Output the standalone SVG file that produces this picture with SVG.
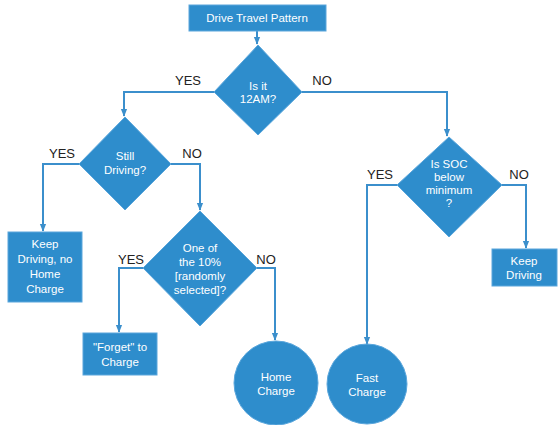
<svg xmlns="http://www.w3.org/2000/svg" width="559" height="425" viewBox="0 0 559 425">
<defs>
<marker id="arr" viewBox="0 0 10 10" refX="9" refY="5" markerWidth="4" markerHeight="4" orient="auto"><path d="M0,1 L10,5 L0,9 z" fill="#3b8fcc"/></marker>
<style>
.shape{fill:#2e8dcc;stroke:#5aa6dc;stroke-width:1}
.t{font-family:"Liberation Sans",Arial,sans-serif;font-size:11.5px;fill:#fff;text-anchor:middle}
.l{font-family:"Liberation Sans",Arial,sans-serif;font-size:13px;fill:#222;text-anchor:middle}
.c{fill:none;stroke:#3b8fcc;stroke-width:2;marker-end:url(#arr)}
</style>
</defs>
<rect width="559" height="425" fill="#fff"/>
<g id="connectors">
<path class="c" d="M257,31 V44"/>
<path class="c" d="M214,92 H124 V116"/>
<path class="c" d="M302,92 H447 V136"/>
<path class="c" d="M79,164 H43 V231"/>
<path class="c" d="M171,164 H200 V210"/>
<path class="c" d="M143,268 H119 V332"/>
<path class="c" d="M257,268 H275 V340"/>
<path class="c" d="M397,185 H367 V344"/>
<path class="c" d="M502,185 H526 V248"/>
</g>
<g id="labels">
<text class="l" x="188" y="85">YES</text>
<text class="l" x="322" y="85">NO</text>
<text class="l" x="62" y="158">YES</text>
<text class="l" x="192" y="158">NO</text>
<text class="l" x="131" y="264">YES</text>
<text class="l" x="266" y="264">NO</text>
<text class="l" x="380" y="179">YES</text>
<text class="l" x="519" y="179">NO</text>
</g>
<g id="start">
<rect class="shape" x="189" y="5" width="137" height="26"/>
<text class="t" x="257" y="22">Drive Travel Pattern</text>
</g>
<g id="is12am">
<polygon class="shape" points="258,45 302,92 258,135 214,92"/>
<text class="t" x="258" y="90">Is it</text>
<text class="t" x="258" y="103">12AM?</text>
</g>
<g id="stillDriving">
<polygon class="shape" points="125,117 171,164 125,210 79,164"/>
<text class="t" x="125" y="160">Still</text>
<text class="t" x="125" y="174">Driving?</text>
</g>
<g id="keepDrivingNoHome">
<rect class="shape" x="8" y="232" width="74" height="70"/>
<text class="t" x="45" y="248">Keep</text>
<text class="t" x="45" y="263">Driving, no</text>
<text class="t" x="45" y="278">Home</text>
<text class="t" x="45" y="293">Charge</text>
</g>
<g id="tenPercent">
<polygon class="shape" points="200,211 257,268 200,326 143,268"/>
<text class="t" x="200" y="252">One of</text>
<text class="t" x="200" y="266">the 10%</text>
<text class="t" x="200" y="280">[randomly</text>
<text class="t" x="200" y="294">selected]?</text>
</g>
<g id="forget">
<rect class="shape" x="83" y="333" width="74" height="42"/>
<text class="t" x="120" y="351">"Forget" to</text>
<text class="t" x="120" y="366">Charge</text>
</g>
<g id="homeCharge">
<circle class="shape" cx="276" cy="383" r="42"/>
<text class="t" x="276" y="381">Home</text>
<text class="t" x="276" y="395">Charge</text>
</g>
<g id="soc">
<polygon class="shape" points="449,137 502,185 449,237 397,185"/>
<text class="t" x="449" y="168">Is SOC</text>
<text class="t" x="449" y="181">below</text>
<text class="t" x="449" y="194">minimum</text>
<text class="t" x="449" y="207">?</text>
</g>
<g id="keepDriving">
<rect class="shape" x="492" y="249" width="65" height="37"/>
<text class="t" x="524" y="265">Keep</text>
<text class="t" x="524" y="279">Driving</text>
</g>
<g id="fastCharge">
<circle class="shape" cx="367" cy="384" r="40"/>
<text class="t" x="367" y="382">Fast</text>
<text class="t" x="367" y="396">Charge</text>
</g>
</svg>
